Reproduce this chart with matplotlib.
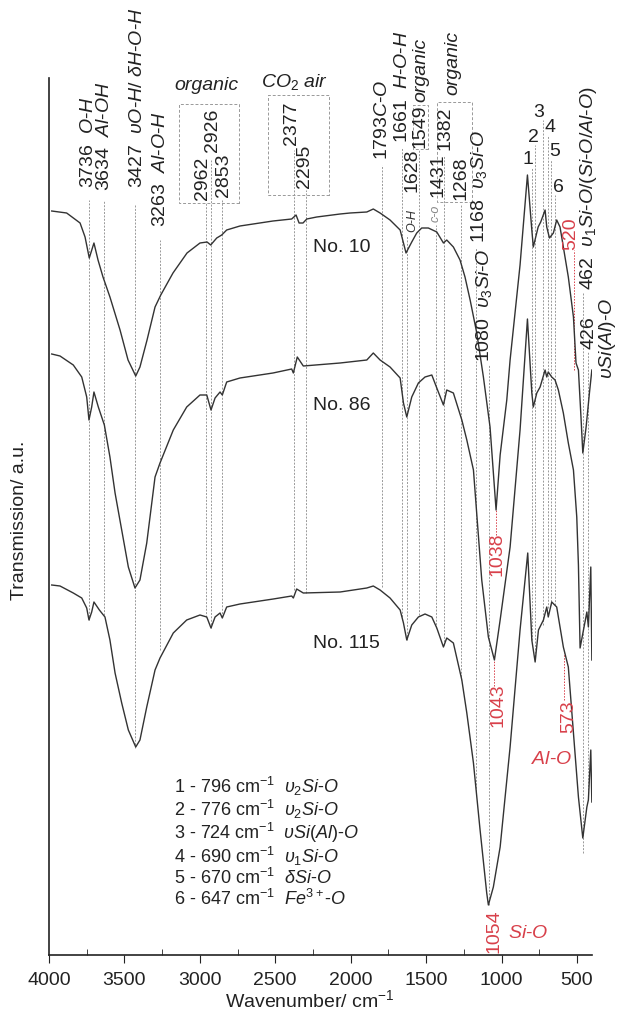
import numpy as np
import matplotlib
matplotlib.use('Agg')
import matplotlib.pyplot as plt
from matplotlib.patches import Rectangle
from matplotlib.ticker import MultipleLocator

plt.rcParams['font.family'] = ['Liberation Sans', 'DejaVu Sans']
plt.rcParams['mathtext.fontset'] = 'custom'
plt.rcParams['mathtext.rm'] = 'Liberation Sans'
plt.rcParams['mathtext.it'] = 'Liberation Sans:italic'
plt.rcParams['mathtext.bf'] = 'Liberation Sans:bold'
plt.rcParams['mathtext.default'] = 'it'

# spectra, (wavenumber cm-1, transmission a.u. incl. vertical offset)
no10 = np.array([
    (3982, 74.4), (3883, 74.2), (3794, 73.2), (3761, 71.8), (3733, 69.7), (3702, 71.2),
    (3675, 69.5), (3642, 67.8), (3596, 65.8), (3529, 62.5), (3476, 59.5), (3425, 57.9),
    (3397, 58.8), (3350, 61.5), (3297, 64.8), (3259, 66.0), (3178, 68.2), (3085, 70.2),
    (2999, 71.2), (2952, 71.3), (2928, 71.0), (2888, 71.7), (2855, 72.0), (2822, 72.5),
    (2734, 72.9), (2515, 73.4), (2391, 73.6), (2362, 74.0), (2342, 73.2), (2316, 73.2),
    (2291, 73.6), (2225, 73.8), (2070, 74.1), (2004, 74.2), (1893, 74.3), (1850, 74.6),
    (1805, 74.2), (1739, 73.5), (1672, 72.5), (1633, 70.2), (1595, 71.3), (1562, 72.2),
    (1529, 72.7), (1485, 72.7), (1429, 72.3), (1385, 71.2), (1363, 71.5), (1319, 70.8),
    (1275, 69.5), (1242, 67.8), (1208, 65.5), (1164, 62.2), (1120, 57.8), (1076, 52.8),
    (1036, 44.5), (1009, 50.0), (965, 55.5), (943, 59.5), (877, 69.0), (828, 78.0),
    (799, 72.5), (789, 70.8), (757, 72.8), (740, 73.3), (711, 74.5), (700, 72.8),
    (682, 71.7), (656, 72.2), (634, 73.5), (612, 72.8), (590, 70.8), (557, 67.8),
    (523, 63.8), (506, 59.2), (490, 58.5), (472, 53.5), (461, 50.2), (439, 52.8),
    (417, 56.2), (401, 58.5)])

no86 = np.array([
    (3982, 60.1), (3927, 59.9), (3839, 59.0), (3783, 57.8), (3750, 55.8), (3735, 53.5),
    (3717, 54.8), (3702, 56.3), (3673, 54.8), (3633, 53.0), (3596, 49.8), (3562, 46.2),
    (3518, 42.5), (3474, 38.8), (3430, 36.7), (3397, 37.5), (3352, 41.2), (3297, 47.8),
    (3264, 49.2), (3176, 52.5), (3087, 54.8), (2999, 56.0), (2954, 56.0), (2926, 54.5),
    (2899, 55.7), (2866, 56.3), (2851, 56.0), (2822, 57.3), (2734, 57.7), (2515, 58.2),
    (2391, 58.6), (2380, 58.2), (2354, 59.8), (2314, 58.9), (2070, 59.2), (1893, 59.5),
    (1850, 60.2), (1805, 59.5), (1739, 58.8), (1672, 57.7), (1650, 55.2), (1628, 53.8),
    (1595, 55.8), (1551, 57.2), (1507, 57.8), (1462, 58.0), (1429, 56.7), (1385, 55.0),
    (1363, 56.5), (1319, 56.2), (1263, 53.5), (1230, 51.5), (1186, 48.5), (1131, 37.5),
    (1087, 31.8), (1047, 29.5), (1009, 33.5), (943, 40.8), (877, 52.5), (828, 63.6),
    (799, 56.2), (789, 54.8), (766, 56.2), (744, 56.8), (711, 58.5), (700, 57.8),
    (690, 58.3), (667, 57.8), (645, 57.5), (623, 56.5), (590, 54.2), (557, 51.2),
    (523, 48.5), (501, 43.8), (490, 39.0), (479, 30.7), (434, 34.3), (424, 32.8),
    (408, 38.8), (401, 29.5)])

no115 = np.array([
    (3982, 37.0), (3927, 36.9), (3839, 36.2), (3783, 35.7), (3750, 34.7), (3735, 33.5),
    (3717, 34.3), (3702, 35.3), (3666, 34.5), (3629, 33.8), (3596, 31.5), (3562, 28.2),
    (3518, 25.2), (3474, 22.5), (3425, 20.8), (3397, 21.5), (3352, 24.8), (3297, 28.5),
    (3264, 29.7), (3176, 32.2), (3087, 33.5), (2999, 34.0), (2954, 33.8), (2926, 32.7),
    (2899, 33.8), (2866, 34.2), (2851, 33.7), (2822, 34.8), (2734, 35.1), (2513, 35.6),
    (2391, 35.9), (2380, 35.7), (2358, 36.6), (2314, 36.2), (2070, 36.3), (1893, 36.7),
    (1850, 36.9), (1805, 36.5), (1739, 35.7), (1672, 34.5), (1650, 33.2), (1628, 31.5),
    (1595, 33.0), (1551, 33.8), (1507, 34.1), (1462, 33.8), (1429, 32.7), (1385, 30.8),
    (1363, 31.7), (1319, 31.2), (1263, 27.5), (1230, 24.2), (1186, 19.2), (1142, 12.5),
    (1098, 6.2), (1087, 5.0), (1054, 6.8), (1009, 10.8), (943, 20.8), (877, 32.5),
    (826, 40.2), (799, 31.5), (777, 29.3), (755, 32.5), (722, 33.5), (700, 34.8),
    (690, 33.8), (667, 35.3), (634, 34.8), (590, 30.8), (557, 28.8), (523, 22.2),
    (490, 15.8), (461, 11.7), (434, 14.8), (424, 15.5), (408, 20.5), (401, 15.3)])

sample_names = ['No. 10', 'No. 86', 'No. 115']
sample_label_pos = [(2249, 70.8), (2249, 54.9), (2249, 31.1)]

# band marker lines: wavenumber, top, bottom
band_lines = [
    (3736, 75.5, 33.5), (3634, 75.5, 34.0), (3427, 75.0, 20.7), (3263, 71.5, 30.5),
    (2962, 75.2, 33.8), (2926, 79.5, 32.7), (2853, 75.5, 33.8), (2377, 80.5, 36.5),
    (2295, 76.5, 36.2), (1793, 79.0, 36.8), (1661, 80.7, 33.5), (1628, 72.0, 31.5),
    (1549, 80.5, 34.0), (1431, 73.0, 32.7), (1382, 80.0, 31.0), (1268, 75.0, 27.5),
    (1168, 70.7, 16.0), (1080, 59.0, 5.0), (796, 78.7, 31.5), (776, 81.0, 29.5),
    (724, 83.5, 33.0), (690, 82.0, 34.7), (670, 79.5, 35.0), (647, 76.0, 35.0),
    (462, 66.3, 10.2), (426, 60.3, 15.5)]
red_lines = [(520, 70.5, 58.5), (1036, 44.5, 42.0), (1047, 29.5, 26.9), (583, 30.2, 25.5)]

# dashed boxes: wn from, wn to, bottom, top
boxes = [(3138, 2740, 75.2, 85.1), (2548, 2143, 76.0, 86.0),
         (1586, 1487, 80.6, 85.0), (1427, 1195, 75.3, 85.3)]

# rotated band labels: wn, bottom, text
vert_labels = [
    (3741, 76.7, '3736  $O$-$H$'),
    (3635, 76.4, '3634  $Al$-$OH$'),
    (3416, 76.7, r'3427  $\upsilon O$-$H$/ $\delta H$-$O$-$H$'),
    (3264, 72.8, '3263  $Al$-$O$-$H$'),
    (2985, 75.5, '2962'), (2919, 80.3, '2926'), (2846, 75.8, '2853'),
    (2389, 81.0, '2377'), (2309, 76.7, '2295'),
    (1792, 79.5, '1793$C$-$O$'),
    (1659, 81.2, '1661  $H$-$O$-$H$'),
    (1540, 80.7, '1549'),
    (1374, 80.5, '1382'), (1266, 75.5, '1268'),
    (1152, 71.2, r'1168  $\upsilon_3 Si$-$O$'),
    (1593, 76.3, '1628'), (1421, 75.8, '1431'),
    (426, 66.5, r'462  $\upsilon_1 Si$-$O/(Si$-$O/Al$-$O)$'),
    (422, 60.6, '426'),
    (296, 57.6, r'$\upsilon Si(Al)$-$O$'),
    (1115, 59.3, r'1080  $\upsilon_3 Si$-$O$')]
vert_italic = [(1535, 85.3, 'organic'), (1321, 86.0, 'organic')]
vert_small = [(1593, 72.3, 'O-H', '#333333'), (1434, 73.3, 'c-o', '#888888')]
vert_red = [(540, 70.5, '520'), (1029, 37.9, '1038'), (1023, 22.8, '1043'),
            (552, 22.2, '573'), (1049, 0.2, '1054')]

peak_numbers = ['1', '2', '3', '4', '5', '6']
peak_number_pos = [(823, 79.5), (791, 81.8), (751, 84.2), (678, 82.8), (645, 80.3), (625, 76.8)]

legend_lines = [
    r'1 - 796 cm$^{\mathrm{-1}}$  $\upsilon_2 Si$-$O$',
    r'2 - 776 cm$^{\mathrm{-1}}$  $\upsilon_2 Si$-$O$',
    r'3 - 724 cm$^{\mathrm{-1}}$  $\upsilon Si(Al)$-$O$',
    r'4 - 690 cm$^{\mathrm{-1}}$  $\upsilon_1 Si$-$O$',
    r'5 - 670 cm$^{\mathrm{-1}}$  $\delta Si$-$O$',
    r'6 - 647 cm$^{\mathrm{-1}}$  $Fe^{3+}$-$O$']
legend_top = 18.0

TXT = '#222222'
RED = '#d8404a'
LINE = '#333333'

fig = plt.figure(figsize=(6.21, 10.21), dpi=100)
ax = fig.add_axes([49 / 621, 1 - 955 / 1021, 543 / 621, 877 / 1021])

for wn, top, bot in band_lines:
    ax.plot([wn, wn], [bot, top], color='#999999', lw=0.7, ls=(0, (2, 1.5)), zorder=1)
for wn, top, bot in red_lines:
    ax.plot([wn, wn], [bot, top], color=RED, lw=0.7, ls=(0, (1.5, 1.5)), zorder=1)
for x0, x1, y0, y1 in boxes:
    ax.add_patch(Rectangle((x1, y0), x0 - x1, y1 - y0, fill=False, ec='#999999',
                           lw=0.7, ls=(0, (3, 2)), clip_on=False))

for spec in (no10, no86, no115):
    ax.plot(spec[:, 0], spec[:, 1], color=LINE, lw=1.0, zorder=3)

for name, (wn, t) in zip(sample_names, sample_label_pos):
    ax.text(wn, t, name, fontsize=14, color=TXT, ha='left', va='center')

def vtext(wn, t, s, size=14, color=TXT, **kw):
    ax.text(wn, t, s, rotation=90, rotation_mode='anchor', ha='left', va='center',
            fontsize=size, color=color, clip_on=False, **kw)

for wn, t, s in vert_labels:
    vtext(wn, t, s)
for wn, t, s in vert_italic:
    vtext(wn, t, s, style='italic')
for wn, t, s, c in vert_small:
    vtext(wn, t, s, size=9, color=c, style='italic')
for wn, t, s in vert_red:
    vtext(wn, t, s, color=RED)

ax.text(2959, 87.0, 'organic', fontsize=14, style='italic', color=TXT, ha='center', va='center', clip_on=False)
ax.text(2369, 87.3, '$CO_2$ $air$', fontsize=14, color=TXT, ha='center', va='center', clip_on=False)
for s, (wn, t) in zip(peak_numbers, peak_number_pos):
    ax.text(wn, t, s, fontsize=14, color=TXT, ha='center', va='center')
ax.text(665, 19.6, '$Al$-$O$', fontsize=14, color=RED, ha='center', va='center')
ax.text(824, 2.2, '$Si$-$O$', fontsize=14, color=RED, ha='center', va='center')

# band list as one block of text
ax.text(3171, legend_top, '\n'.join(legend_lines), fontsize=13, color=TXT,
        ha='left', va='top', linespacing=1.0)

ax.set_xlim(4000, 400)
ax.set_ylim(0, 87.7)
ax.set_yticks([])
ax.xaxis.set_major_locator(MultipleLocator(500))
ax.xaxis.set_minor_locator(MultipleLocator(250))
ax.tick_params(axis='x', which='major', direction='out', length=6, labelsize=14, colors=TXT, pad=6)
ax.tick_params(axis='x', which='minor', direction='in', length=4, colors=TXT)
for side in ('top', 'right'):
    ax.spines[side].set_visible(False)
for side in ('left', 'bottom'):
    ax.spines[side].set_linewidth(1.2)
    ax.spines[side].set_color(TXT)

fig.text(310 / 621, 1 - 1000 / 1021, r'Wavenumber/ cm$^{\mathrm{-1}}$', fontsize=14, color=TXT,
         ha='center', va='center')
fig.text(20 / 621, 1 - 520 / 1021, 'Transmission/ a.u.', fontsize=14, color=TXT,
         ha='center', va='center', rotation=90)

fig.savefig('out.png', dpi=100)
